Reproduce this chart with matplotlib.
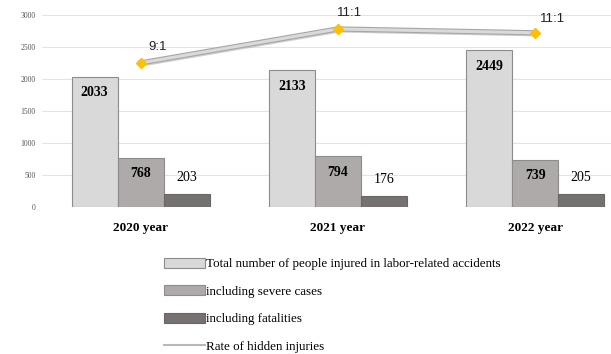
import matplotlib
matplotlib.use('Agg')
import matplotlib.pyplot as plt
import matplotlib.patheffects as pe
from matplotlib.patches import Patch
from matplotlib.lines import Line2D
import numpy as np

###############################################
years = ['2020 year', '2021 year', '2022 year']
total = [2033, 2133, 2449]
severe = [768, 794, 739]
fatal = [203, 176, 205]
# rate of hidden injuries, drawn on the same scale as in the source chart
rate_pos = [2250, 2780, 2720]
rate_lbl = ['9:1', '11:1', '11:1']

series_names = ['Total number of people injured in labor-related accidents',
                'including severe cases',
                'including fatalities',
                'Rate of hidden injuries']
###############################################

serif = 'Liberation Serif'
sans = 'Liberation Sans'
colors = ['#D9D9D9', '#AEAAAA', '#767171']
edges = ['#8C8C8C', '#8C8C8C', '#6A6666']

fig = plt.figure(figsize=(6.11, 3.54), dpi=100)
ax = fig.add_axes([0.0687, 0.415, 0.9313, 0.543])

x = np.arange(len(years))
w = 0.233
vals = [total, severe, fatal]
for i in range(3):
  ax.bar(x + (i - 1) * w, vals[i], width=w, color=colors[i], edgecolor=edges[i],
         linewidth=0.8, zorder=3)

for j in range(len(years)):
  ax.text(x[j] - w, total[j] - 250, str(total[j]), ha='center', va='center',
          family=serif, fontsize=10, fontweight='bold', zorder=5)
  ax.text(x[j], severe[j] - 250, str(severe[j]), ha='center', va='center',
          family=serif, fontsize=10, fontweight='bold', zorder=5)
  ax.text(x[j] + w, fatal[j] + 260, str(fatal[j]), ha='center', va='center',
          family=serif, fontsize=10, zorder=5)

ax.plot(x, rate_pos, color='#DADADA', linewidth=2.2, zorder=4,
        path_effects=[pe.SimpleLineShadow(offset=(1.2, -1.5), shadow_color='#B0B0B0', alpha=0.6),
                      pe.Stroke(linewidth=3.8, foreground='#A6A6A6'), pe.Normal()])
ax.plot(x, rate_pos, linestyle='none', marker='D', markersize=5,
        color='#FFC000', markeredgecolor='#FFC000', zorder=6)
offs = [(0.086, 250), (0.06, 250), (0.09, 220)]
for j in range(len(years)):
  ax.text(x[j] + offs[j][0], rate_pos[j] + offs[j][1], rate_lbl[j], ha='center',
          va='center', family=sans, fontsize=9.5, color='#222222', zorder=6)

ax.set_xlim(-0.5, 2.385)
ax.set_ylim(0, 3000)
ax.set_yticks(range(0, 3001, 500))
ax.set_yticklabels([str(v) for v in range(0, 3001, 500)], family=serif,
                   fontsize=5.5, color='#555555')
ax.set_xticks(x)
ax.set_xticklabels(years, family=serif, fontsize=9.5, fontweight='bold')
ax.tick_params(axis='both', length=0)
ax.tick_params(axis='x', pad=11)
ax.tick_params(axis='y', pad=4.5)
ax.grid(axis='y', color='#E3E3E3', linewidth=0.8, zorder=0)
for s in ax.spines.values():
  s.set_visible(False)

handles = [Patch(facecolor=colors[0], edgecolor=edges[0], linewidth=0.8),
           Patch(facecolor=colors[1], edgecolor=edges[1], linewidth=0.8),
           Patch(facecolor=colors[2], edgecolor=edges[2], linewidth=0.8),
           Line2D([0], [0], color='#B8B8B8', linewidth=1.5)]
fig.legend(handles, series_names, loc='upper left', bbox_to_anchor=(0.258, 0.29),
           frameon=False, prop={'family': serif, 'size': 9.4}, handlelength=3.1,
           handleheight=0.8, handletextpad=0.1, labelspacing=1.15, borderpad=0)

plt.savefig('out.png', dpi=100)
